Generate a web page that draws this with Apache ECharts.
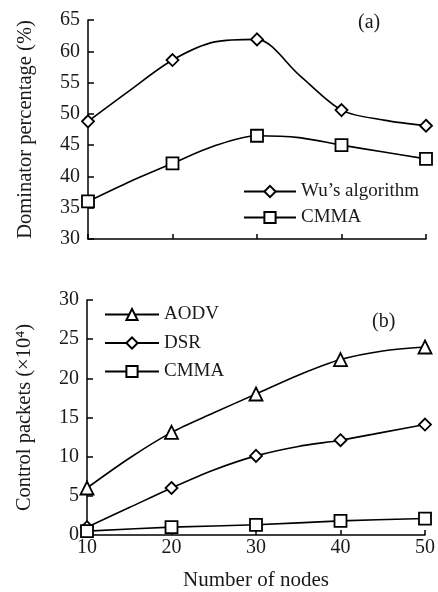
<!DOCTYPE html>
<html>
<head>
<meta charset="utf-8">
<script src="https://cdn.jsdelivr.net/npm/echarts@6/dist/echarts.min.js"></script>
<style>
  html, body { margin: 0; padding: 0; background: #fff; }
  #chart { width: 438px; height: 592px; }
</style>
</head>
<body>
<div id="chart"></div>
<script>
// x positions (number of nodes), markers only on multiples of 10
const nodes = [10, 15, 20, 25, 30, 35, 40, 45, 50];

// (a) dominator percentage
const wuPct   = [48.8, 53.8, 58.6, 61.5, 61.9, 56.2, 50.6, 49.0, 48.1];
const cmmaPct = [36.0, 39.2, 42.1, 44.9, 46.5, 46.2, 45.0, 43.9, 42.8];

// (b) control packets (x10^4)
const aodvPkt = [6.0, 9.8, 13.1, 15.6, 18.0, 20.4, 22.4, 23.5, 24.0];
const dsrPkt  = [1.0, 3.5, 6.0, 8.3, 10.1, 11.3, 12.1, 13.1, 14.1];
const cmmaPkt = [0.5, null, 1.0, null, 1.3, null, 1.8, null, 2.1];

const font = 'Liberation Serif';
const txt = '#1a1a1a';

function toData(vals) {
  const out = [];
  vals.forEach((v, i) => {
    if (v === null) return;
    const x = nodes[i];
    if (x % 10 === 0) {
      out.push([x, v]);
    } else {
      out.push({ value: [x, v], symbol: 'none' });
    }
  });
  return out;
}

function makeSeries(name, vals, symbol, grid) {
  return {
    name: name,
    type: 'line',
    xAxisIndex: grid,
    yAxisIndex: grid,
    data: toData(vals),
    smooth: 0.3,
    symbol: symbol,
    symbolSize: symbol === 'triangle' ? 13 : 12,
    lineStyle: { color: '#000', width: 1.6 },
    itemStyle: { color: '#fff', borderColor: '#000', borderWidth: 1.8 },
    emphasis: { disabled: true },
    animation: false,
    z: symbol === 'rect' ? 3 : 2
  };
}

function xAxis(grid, showLabels) {
  return {
    type: 'value',
    gridIndex: grid,
    min: 10, max: 50, interval: 10,
    axisLine: { lineStyle: { color: '#000', width: 1.5 } },
    axisTick: { inside: true, length: 5, lineStyle: { color: '#000', width: 1.5 } },
    axisLabel: { show: showLabels, fontFamily: font, fontSize: 20, color: txt, margin: 3 },
    splitLine: { show: false },
    name: showLabels ? 'Number of nodes' : '',
    nameLocation: 'middle',
    nameGap: 35,
    nameTextStyle: { fontFamily: font, fontSize: 21, color: txt }
  };
}

function yAxis(grid, min, max, name) {
  return {
    type: 'value',
    gridIndex: grid,
    min: min, max: max, interval: 5,
    axisLine: { show: true, lineStyle: { color: '#000', width: 1.5 } },
    axisTick: { show: true, inside: true, length: 6, lineStyle: { color: '#000', width: 1.5 } },
    axisLabel: { fontFamily: font, fontSize: 20, color: txt, margin: 8 },
    splitLine: { show: false },
    name: name,
    nameLocation: 'middle',
    nameGap: 52,
    nameTextStyle: { fontFamily: font, fontSize: 20.5, color: txt }
  };
}

const chart = echarts.init(document.getElementById('chart'), null, { renderer: 'canvas' });

const legendText = { fontFamily: font, fontSize: 19, color: txt };

const option = {
  backgroundColor: '#fff',
  animation: false,
  title: [
    { text: '(a)', left: 358, top: 13, padding: 0, textStyle: { fontFamily: font, fontSize: 20, fontWeight: 'normal', color: txt } },
    { text: '(b)', left: 372, top: 312, padding: 0, textStyle: { fontFamily: font, fontSize: 20, fontWeight: 'normal', color: txt } }
  ],
  grid: [
    { left: 88, right: 12, top: 20, height: 219 },
    { left: 87, right: 10, top: 300, height: 238 }
  ],
  legend: [
    {
      data: ['Wu\u2019s algorithm', 'CMMA'],
      orient: 'vertical',
      left: 243, top: 182, padding: 0,
      itemWidth: 52, itemHeight: 14, itemGap: 7,
      textStyle: legendText,
      selectedMode: false
    },
    {
      data: ['AODV', 'DSR', 'CMMA '],
      orient: 'vertical',
      left: 104, top: 305, padding: 0,
      itemWidth: 54, itemHeight: 14, itemGap: 9.5,
      textStyle: legendText,
      selectedMode: false
    }
  ],
  xAxis: [xAxis(0, false), xAxis(1, true)],
  yAxis: [
    yAxis(0, 30, 65, 'Dominator percentage (%)'),
    yAxis(1, 0, 30, 'Control packets (\u00d710\u2074)')
  ],
  series: [
    makeSeries('Wu\u2019s algorithm', wuPct, 'diamond', 0),
    makeSeries('CMMA', cmmaPct, 'rect', 0),
    makeSeries('AODV', aodvPkt, 'triangle', 1),
    makeSeries('DSR', dsrPkt, 'diamond', 1),
    makeSeries('CMMA ', cmmaPkt, 'rect', 1)
  ]
};

chart.setOption(option);
</script>
</body>
</html>
